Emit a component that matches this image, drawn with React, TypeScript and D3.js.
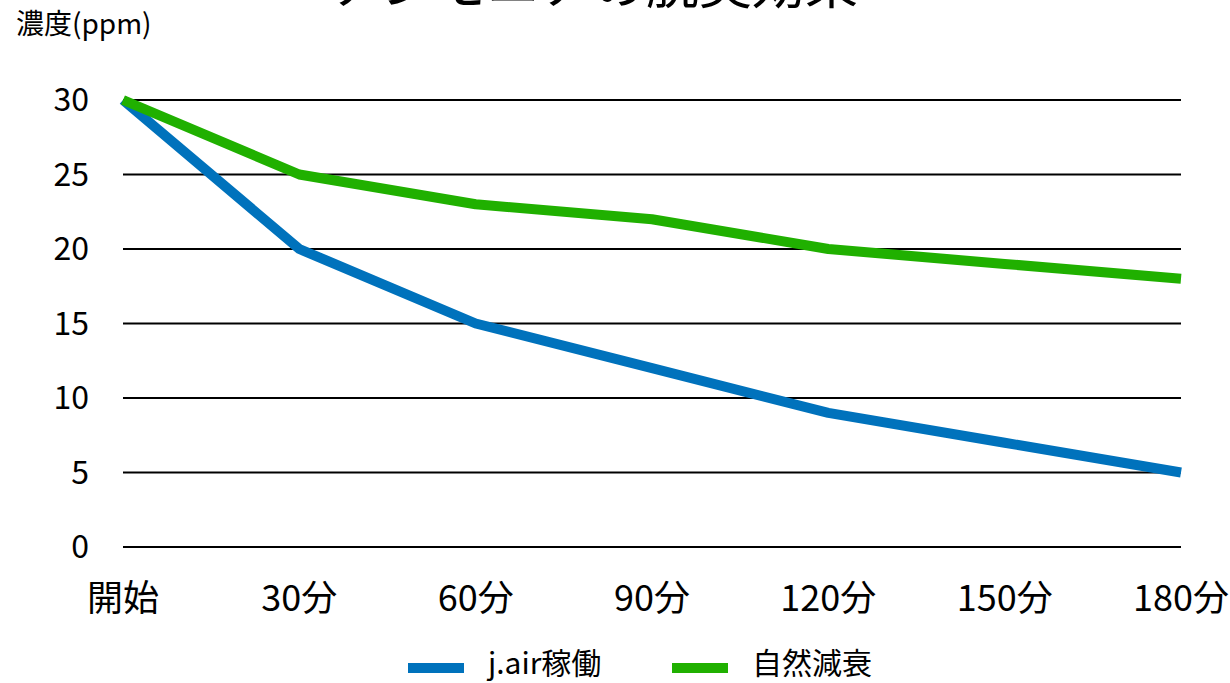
import React from "react";
import * as d3 from "d3";

const categories = ["開始", "30分", "60分", "90分", "120分", "150分", "180分"];
const jairValues = [30, 20, 15, 12, 9, 7, 5];
const naturalValues = [30, 25, 23, 22, 20, 19, 18];
const yTicks = [0, 5, 10, 15, 20, 25, 30];
const seriesNames = ["j.air稼働", "自然減衰"];
const seriesColors = ["#0072bc", "#20b000"];

const W = 1230;
const H = 683;
const FONT = "'Noto Sans CJK JP', 'Noto Sans', sans-serif";

export default function App() {
  const x = d3
    .scalePoint<string>()
    .domain(categories)
    .range([123, 1181]);
  const y = d3.scaleLinear().domain([0, 30]).range([547, 100]);

  const line = d3
    .line<number>()
    .x((_, i) => x(categories[i]) as number)
    .y((d) => y(d));

  const series = [jairValues, naturalValues];

  return (
    <svg
      width={W}
      height={H}
      style={{ position: "absolute", left: 0, top: 0, background: "#fff" }}
      fontFamily={FONT}
    >
      <text x={594} y={4} textAnchor="middle" fontSize={53} fill="#000">
        アンモニアの脱臭効果
      </text>
      <text x={16} y={34} fontSize={28} fill="#000">
        濃度(ppm)
      </text>

      {yTicks.map((t) => (
        <g key={t}>
          <line
            x1={123}
            x2={1181}
            y1={y(t)}
            y2={y(t)}
            stroke="#000"
            strokeWidth={2}
          />
          <text
            x={89}
            y={y(t)}
            dy="0.35em"
            textAnchor="end"
            fontSize={32}
            fill="#000"
          >
            {t}
          </text>
        </g>
      ))}

      {categories.map((c) => (
        <text
          key={c}
          x={x(c) as number}
          y={611}
          textAnchor="middle"
          fontSize={36}
          fill="#000"
        >
          {c}
        </text>
      ))}

      {series.map((s, i) => (
        <path
          key={seriesNames[i]}
          d={line(s) ?? ""}
          fill="none"
          stroke={seriesColors[i]}
          strokeWidth={10}
          strokeLinejoin="round"
        />
      ))}

      {seriesNames.map((name, i) => {
        const lx = i === 0 ? 408 : 672;
        return (
          <g key={name}>
            <line
              x1={lx}
              x2={lx + 56}
              y1={668}
              y2={668}
              stroke={seriesColors[i]}
              strokeWidth={10}
            />
            <text x={lx + 80} y={674} fontSize={30} fill="#000">
              {name}
            </text>
          </g>
        );
      })}
    </svg>
  );
}
